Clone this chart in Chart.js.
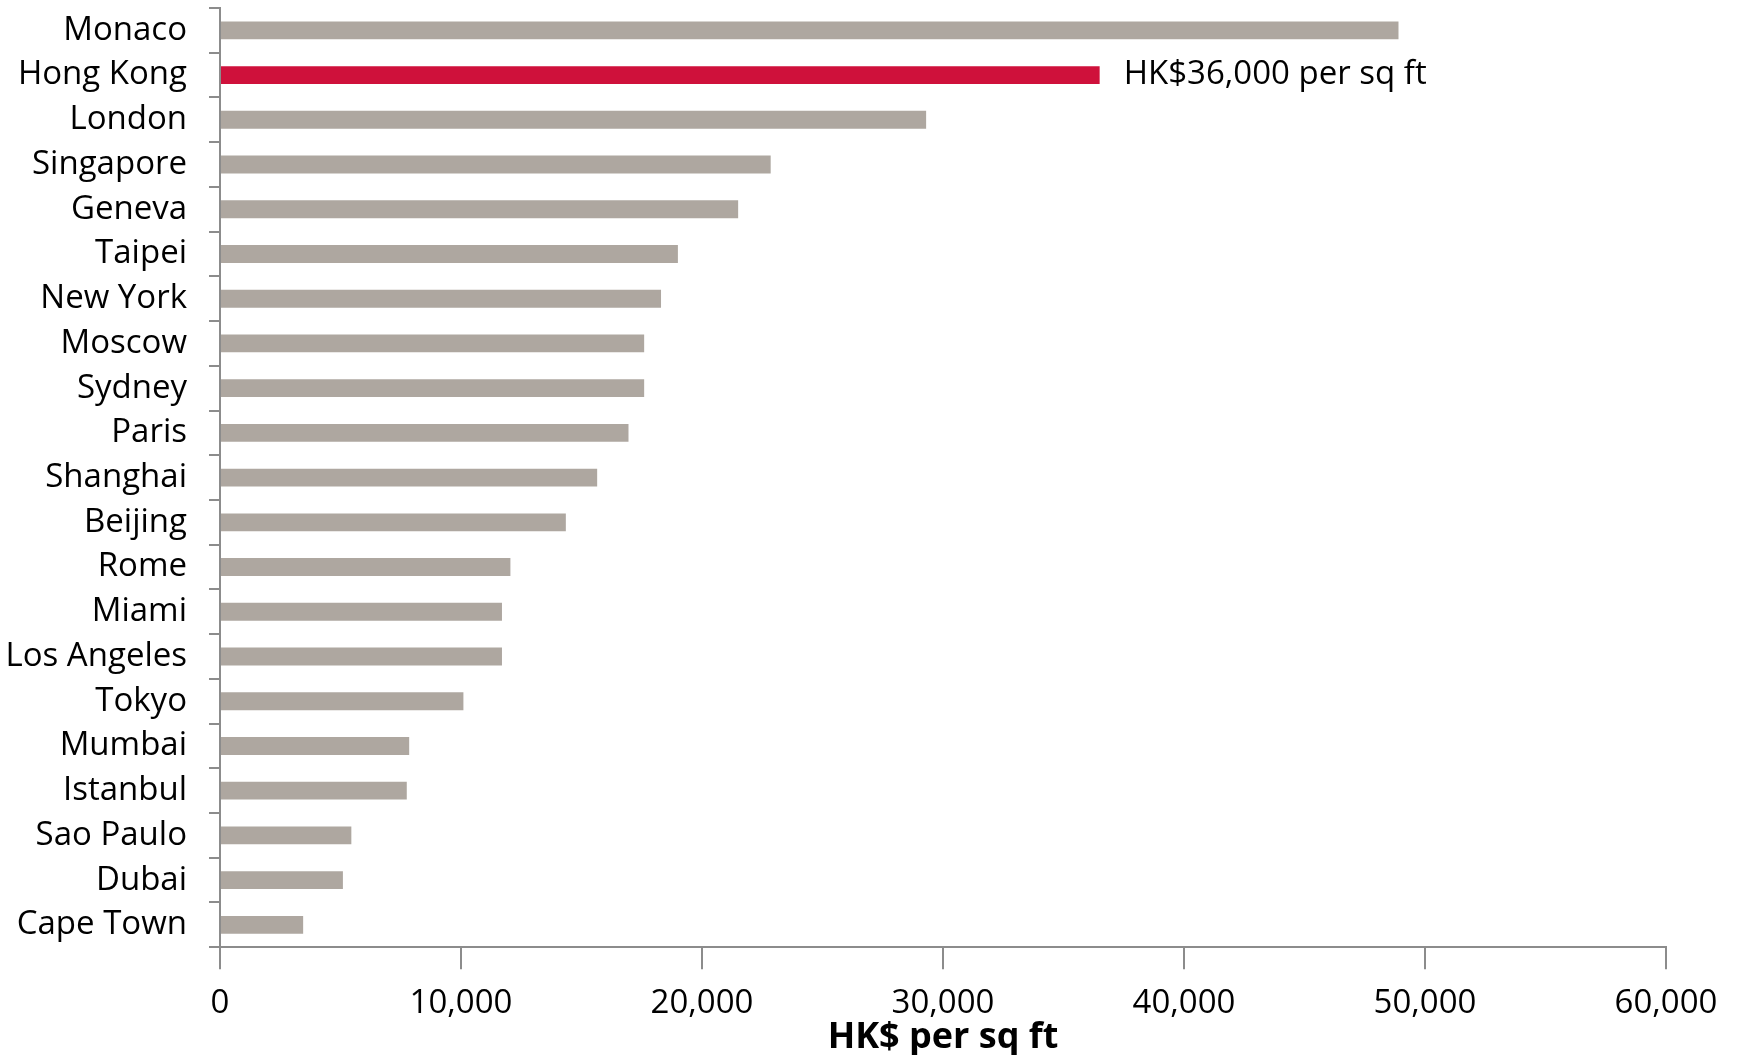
<!DOCTYPE html>
<html>
<head>
<meta charset="utf-8">
<script src="https://cdn.jsdelivr.net/npm/chart.js@4/dist/chart.umd.min.js"></script>
<style>
  body { margin: 0; background: #fff; }
</style>
</head>
<body>
<canvas id="chart" width="1740" height="1055"></canvas>
<script>
const cities = ['Monaco', 'Hong Kong', 'London', 'Singapore', 'Geneva', 'Taipei', 'New York',
    'Moscow', 'Sydney', 'Paris', 'Shanghai', 'Beijing', 'Rome', 'Miami', 'Los Angeles',
    'Tokyo', 'Mumbai', 'Istanbul', 'Sao Paulo', 'Dubai', 'Cape Town']
const prices = [48900, 36500, 29300, 22850, 21500, 19000, 18300, 17600, 17600, 16950, 15650,
    14350, 12050, 11700, 11700, 10100, 7850, 7750, 5450, 5100, 3450]
const highlight = 'Hong Kong'
const highlightLabel = 'HK$36,000 per sq ft'
const xTitle = 'HK$ per sq ft'

const FONT = "'Open Sans', 'Noto Sans', sans-serif"

const barLabel = {
    id: 'barLabel',
    afterDatasetsDraw(chart) {
        const idx = cities.indexOf(highlight)
        const bar = chart.getDatasetMeta(0).data[idx]
        const ctx = chart.ctx
        ctx.save()
        ctx.font = '33px ' + FONT
        ctx.fillStyle = '#000'
        ctx.textBaseline = 'middle'
        ctx.fillText(highlightLabel, bar.x + 24, bar.y)
        ctx.restore()
    }
}

new Chart(document.getElementById('chart'), {
    type: 'bar',
    data: {
        labels: cities,
        datasets: [{
            data: prices,
            backgroundColor: cities.map(c => c === highlight ? '#cf113b' : '#aea7a0'),
            barPercentage: 0.4,
            categoryPercentage: 1.0
        }]
    },
    options: {
        indexAxis: 'y',
        responsive: false,
        animation: false,
        layout: { padding: { top: 8, right: 74, left: 0, bottom: 0 } },
        plugins: {
            legend: { display: false },
            tooltip: { enabled: false }
        },
        scales: {
            x: {
                min: 0,
                max: 60000,
                ticks: {
                    stepSize: 10000,
                    color: '#000',
                    font: { family: FONT, size: 33 },
                    padding: 15,
                    callback: v => v.toLocaleString('en-US')
                },
                grid: {
                    drawOnChartArea: false,
                    tickLength: 22,
                    color: '#8c8c8c',
                    lineWidth: 2
                },
                border: { color: '#8c8c8c', width: 2 },
                title: {
                    display: true,
                    text: xTitle,
                    color: '#000',
                    font: { family: FONT, size: 36, weight: 'bold' },
                    padding: { top: -14, bottom: -4 }
                },
                afterFit(scale) {
                    scale.paddingLeft = 0
                    scale.paddingRight = 0
                    scale.height -= 9
                }
            },
            y: {
                ticks: {
                    color: '#000',
                    font: { family: FONT, size: 33 },
                    padding: 22
                },
                grid: {
                    drawOnChartArea: false,
                    tickLength: 11,
                    color: '#8c8c8c',
                    lineWidth: 2
                },
                border: { color: '#8c8c8c', width: 2 },
                afterFit(scale) {
                    scale.paddingTop = 0
                    scale.paddingBottom = 0
                    scale.width = 220
                }
            }
        }
    },
    plugins: [barLabel]
})
</script>
</body>
</html>
